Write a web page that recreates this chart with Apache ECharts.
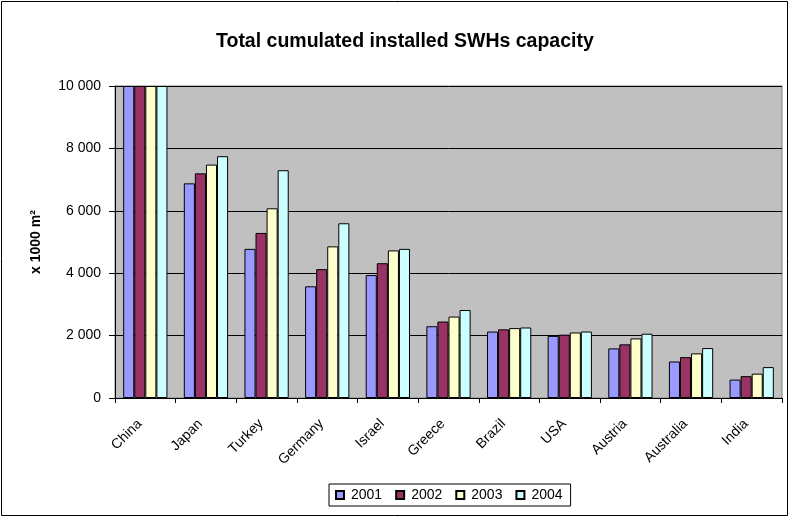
<!DOCTYPE html>
<html><head><meta charset="utf-8">
<script src="https://cdn.jsdelivr.net/npm/echarts@6/dist/echarts.min.js"></script>
<style>html,body{margin:0;padding:0;background:#fff}#c{width:789px;height:517px}</style>
</head><body><div id="c"></div>
<script>
const categories = ['China','Japan','Turkey','Germany','Israel','Greece','Brazil','USA','Austria','Australia','India'];
const years = ['2001','2002','2003','2004'];
const v2001 = [10000, 6880, 4780, 3580, 3940, 2300, 2130, 1990, 1590, 1170, 590];
const v2002 = [10000, 7200, 5290, 4130, 4320, 2450, 2200, 2030, 1720, 1310, 700];
const v2003 = [10000, 7480, 6080, 4860, 4730, 2610, 2240, 2100, 1910, 1430, 780];
const v2004 = [10000, 7750, 7300, 5600, 4780, 2820, 2260, 2130, 2060, 1600, 990];
const colors = ['#9999FF','#993366','#FFFFCC','#CCFFFF'];
const yTicks = [0, 2000, 4000, 6000, 8000, 10000];

const chart = echarts.init(document.getElementById('c'));
const font = 'Liberation Sans, Arial, sans-serif';
const seriesData = [v2001, v2002, v2003, v2004];
chart.setOption({
  animation: false,
  textStyle: {fontFamily: font},
  graphic: [{type:'rect', shape:{x:1.5,y:1.5,width:786,height:514}, style:{fill:'none', stroke:'#000', lineWidth:1}}],
  title: {text: 'Total cumulated installed SWHs capacity', left: 211, top: 27,
    textStyle: {fontFamily: font, fontSize: 19.5, fontWeight: 'bold', color: '#000'}},
  legend: {data: years, left: 329, top: 484, orient: 'horizontal',
    itemWidth: 8, itemHeight: 8, itemGap: 13, padding: [4, 8, 4, 6],
    borderColor: '#000', borderWidth: 1, icon: 'rect',
    textStyle: {fontFamily: font, fontSize: 14, color: '#000', padding:[0,0,0,2]}},
  grid: {left: 115, right: 7, top: 86, bottom: 119, show: true,
    backgroundColor: '#C0C0C0', borderColor: '#808080', borderWidth: 1},
  xAxis: {type: 'category', data: categories,
    axisLine: {lineStyle: {color: '#000'}},
    axisTick: {show: true, interval: 0, length: 5, lineStyle: {color: '#000'}},
    axisLabel: {rotate: 45, interval: 0, fontFamily: font, fontSize: 14, color: '#000', margin: 18,
      padding: [0, 8, 0, 0]}},
  yAxis: {type: 'value', min: 0, max: 10000, interval: 2000,
    name: 'x 1000 m²', nameLocation: 'middle', nameRotate: 90, nameGap: 72,
    nameTextStyle: {fontFamily: font, fontSize: 14, fontWeight: 'bold', color: '#000'},
    axisLine: {show: true, lineStyle: {color: '#000'}},
    axisTick: {show: true, length: 6, lineStyle: {color: '#000'}},
    splitLine: {show: true, lineStyle: {color: '#000', width: 1}},
    axisLabel: {fontFamily: font, fontSize: 14, color: '#000', margin: 14,
      formatter: v => yTicks.includes(v) ? String(v).replace(/\B(?=(\d{3})+(?!\d))/g, ' ') : ''}},
  series: years.map((y, i) => ({
    name: y, type: 'bar', data: seriesData[i], barGap: '0%', barCategoryGap: '27%',
    itemStyle: {color: colors[i], borderColor: '#000', borderWidth: 1}
  }))
});
</script></body></html>
